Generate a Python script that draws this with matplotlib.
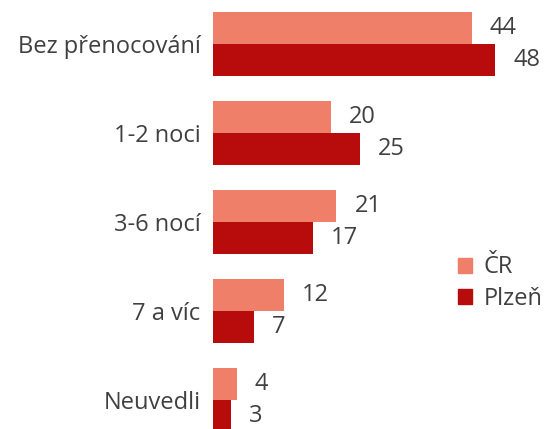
import matplotlib
matplotlib.use("Agg")
import matplotlib.pyplot as plt
import numpy as np
from matplotlib.patches import Patch

categories = ["Bez přenocování", "1-2 noci", "3-6 nocí", "7 a víc", "Neuvedli"]
cr = [44, 20, 21, 12, 4]
plzen = [48, 25, 17, 7, 3]
series_names = ["ČR", "Plzeň"]

c_cr = "#F07F6A"
c_pl = "#B80C0C"
txt = "#404040"
plt.rcParams['font.family'] = ['Open Sans', 'DejaVu Sans']
fs = 17

fig = plt.figure(figsize=(5.44, 4.29), dpi=100)
W, H = 544, 429
ax = fig.add_axes([213 / W, 0, (539 - 213) / W, 1])

y = np.arange(len(categories))
bh = 0.36
b1 = ax.barh(y - bh / 2, cr, height=bh, color=c_cr, label=series_names[0])
b2 = ax.barh(y + bh / 2, plzen, height=bh, color=c_pl, label=series_names[1])
ax.set_xlim(0, (539 - 213) / 5.88)
ax.set_ylim((429 - 44) / 89, -44 / 89)

for bars in (b1, b2):
    ax.bar_label(bars, padding=13, fontsize=fs, color=txt)

ax.set_yticks(y)
ax.set_yticklabels(categories, fontsize=fs, color=txt)
ax.tick_params(axis='y', length=0, pad=9)
ax.set_xticks([])
for s in ax.spines.values():
    s.set_visible(False)

handles = [Patch(color=c_cr), Patch(color=c_pl)]
fig.legend(handles, series_names, loc='center left', bbox_to_anchor=(458 / W, 1 - 283 / H),
           frameon=False, fontsize=fs, labelcolor=txt, handlelength=0.6, handleheight=0.6,
           handletextpad=0.5, labelspacing=0.3, borderaxespad=0, borderpad=0)

fig.savefig("out.png", dpi=100)
